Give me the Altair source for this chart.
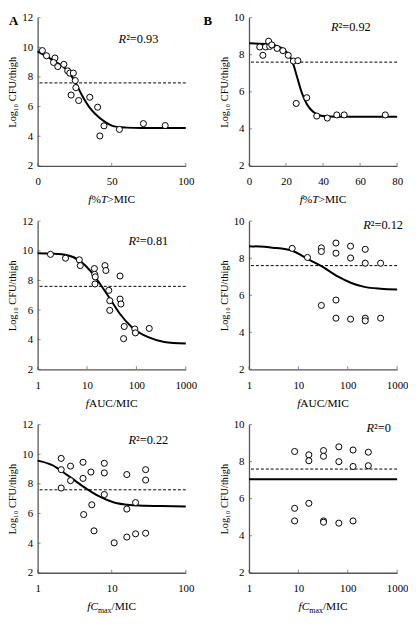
import altair as alt
import pandas as pd

FONT = "Liberation Serif"
W, H = 150, 150
DASH_Y = 7.6

# ---------------- data ----------------
# Panel A: f%T>MIC
A_x = [3.2, 6.0, 11.7, 10.7, 13.6, 17.7, 20.3, 21.7, 24.1, 25.4, 25.8, 22.6, 27.7, 35.2, 40.5, 42.0, 44.8, 55.2, 71.4, 86.1]
A_y = [9.78, 9.43, 9.28, 8.98, 8.70, 8.85, 8.41, 8.26, 8.26, 7.76, 7.28, 6.78, 6.41, 6.63, 5.96, 4.02, 4.70, 4.46, 4.85, 4.72]
A_cx = [0, 5, 10, 15, 20, 25, 30, 35, 40, 45, 50, 55, 60, 70, 100]
A_cy = [9.72, 9.45, 9.15, 8.85, 8.45, 7.72, 6.75, 5.95, 5.40, 5.00, 4.72, 4.62, 4.58, 4.55, 4.55]

# Panel B: f%T>MIC
B_x = [5.8, 7.5, 8.9, 10.6, 11.2, 12.3, 15.2, 18.3, 21.2, 24.0, 26.4, 25.5, 31.2, 36.6, 42.3, 47.4, 51.4, 73.6]
B_y = [8.42, 7.97, 8.42, 8.73, 8.45, 8.53, 8.34, 8.22, 7.97, 7.66, 7.68, 5.37, 5.68, 4.69, 4.58, 4.75, 4.75, 4.75]
B_cx = [0, 11.5, 15, 18.3, 21.7, 24, 26, 28.6, 31.2, 34.6, 38.9, 44, 50, 80]
B_cy = [8.62, 8.57, 8.48, 8.31, 7.97, 7.46, 6.78, 5.93, 5.34, 4.92, 4.71, 4.66, 4.65, 4.65]

# Panel C: fAUC/MIC
C_x = [1.82, 3.67, 6.98, 7.3, 14.1, 14.3, 14.7, 14.5, 23.1, 24.1, 46.6, 27.6, 28.9, 28.9, 46.6, 48.6, 56.7, 55.0, 92.9, 95.6, 182]
C_y = [9.76, 9.50, 9.39, 9.00, 8.80, 8.41, 8.24, 7.76, 9.00, 8.67, 8.30, 7.33, 6.63, 5.98, 6.74, 6.41, 4.89, 4.07, 4.72, 4.46, 4.76]
C_cx = [1, 2, 4, 7.5, 11.8, 18.4, 29, 45, 82, 174, 366, 1000]
C_cy = [9.83, 9.80, 9.70, 9.28, 8.63, 7.76, 6.78, 5.80, 4.83, 4.17, 3.85, 3.74]

# Panel D: fAUC/MIC
D_x = [7.5, 15.3, 29.2, 29.2, 57.7, 57.7, 114, 114, 226, 226, 463, 29.2, 57.7, 57.7, 114, 226, 226, 463]
D_y = [8.53, 8.04, 8.56, 8.36, 8.82, 8.27, 8.65, 8.01, 8.48, 7.73, 7.73, 5.45, 5.74, 4.76, 4.71, 4.76, 4.62, 4.76]
D_cx = [1, 3, 7.7, 15.3, 30, 64, 118, 217, 464, 1000]
D_cy = [8.65, 8.57, 8.39, 7.96, 7.56, 7.00, 6.66, 6.45, 6.35, 6.31]

# Panel E: fCmax/MIC
E_x = [2.08, 2.08, 2.08, 2.78, 2.78, 4.1, 4.1, 4.18, 5.24, 5.38, 5.77, 7.95, 7.95, 7.95, 10.8, 16, 16, 16, 21, 21, 28.7, 28.7, 28.7]
E_y = [9.72, 8.96, 7.72, 9.20, 8.22, 9.46, 8.37, 5.93, 8.80, 6.59, 4.83, 9.39, 8.74, 7.28, 4.02, 8.63, 6.30, 4.41, 6.74, 4.63, 8.96, 8.26, 4.67]
E_cx = [1, 1.55, 2.52, 4.1, 6.7, 10.8, 17.7, 28.7, 46.8, 100]
E_cy = [9.57, 9.28, 8.59, 7.83, 7.17, 6.74, 6.57, 6.52, 6.50, 6.48]

# Panel F: fCmax/MIC
F_x = [8.4, 8.4, 8.4, 16.3, 16.3, 16.3, 32.3, 32.3, 32.3, 32.3, 66, 66, 66, 128, 128, 128, 261, 261]
F_y = [8.55, 5.48, 4.80, 8.37, 8.05, 5.75, 8.60, 8.29, 4.80, 4.73, 8.80, 8.00, 4.68, 8.63, 7.74, 4.80, 8.51, 7.78]
F_cx = [1, 1000]
F_cy = [7.05, 7.05]

R2 = {"A": "0.93", "B": "0.92", "C": "0.81", "D": "0.12", "E": "0.22", "F": "0"}

X_LIN_A = [0, 50, 100]
X_LIN_B = [0, 20, 40, 60, 80]
X_LOG3 = [1, 10, 100, 1000]
X_LOG2 = [1, 10, 100]
Y12 = [2, 4, 6, 8, 10, 12]
Y10 = [2, 4, 6, 8, 10]

Y_TITLE = "Log\u2081\u2080 CFU/thigh"

# ---------------- text helpers (Times metrics) ----------------
REG = {' ': 250, '%': 833, '.': 250, '/': 278, '=': 564, '>': 564, 'A': 722, 'B': 667,
       'C': 667, 'I': 333, 'M': 889, 'U': 722, 'a': 444, 'm': 778, 'x': 500, '\u00b2': 300,
       'R': 667, 'T': 611, 'f': 333}
for d in "0123456789":
    REG[d] = 500
ITA = {'f': 278, 'T': 556, 'R': 611, 'C': 667}


def text_width(s, size, italic, bold=False):
    tab = ITA if italic else REG
    w = sum(tab.get(c, REG.get(c, 500)) for c in s) * size / 1000.0
    return w * (1.05 if bold else 1.0)


def text_run(pieces, x, y, anchor="left"):
    total = sum(text_width(t, s, it, b) for t, it, s, dy, b in pieces)
    if anchor == "center":
        x0 = x - total / 2
    elif anchor == "right":
        x0 = x - total
    else:
        x0 = x
    layers = []
    cx = x0
    for t, it, s, dy, b in pieces:
        layers.append(
            alt.Chart(alt.Data(values=[{"k": 1}]))
            .mark_text(text=t, font=FONT, fontSize=s,
                       fontStyle="italic" if it else "normal",
                       fontWeight="bold" if b else "normal",
                       align="left", baseline="alphabetic", color="black")
            .encode(x=alt.value(cx), y=alt.value(y + dy))
        )
        cx += text_width(t, s, it, b)
    return layers


XT = 11.5
TITLE_PCT = [("f", True, XT, 0, False), ("%", False, XT, 0, False),
             ("T", True, XT, 0, False), (">MIC", False, XT, 0, False)]
TITLE_AUC = [("f", True, XT, 0, False), ("AUC/MIC", False, XT, 0, False)]
TITLE_CMAX = [("f", True, XT, 0, False), ("C", True, XT, 0, False),
              ("max", False, 8, 3, False), ("/MIC", False, XT, 0, False)]

PANELS = [
    dict(key="A", x=A_x, y=A_y, cx=A_cx, cy=A_cy, log=False, xdom=[0, 100], xt=X_LIN_A,
         ymax=12, yt=Y12, title=TITLE_PCT, r2=(82, 26, "left"), letter=(-29, 7)),
    dict(key="B", x=B_x, y=B_y, cx=B_cx, cy=B_cy, log=False, xdom=[0, 80], xt=X_LIN_B,
         ymax=10, yt=Y10, title=TITLE_PCT, r2=(83, 13, "left"), letter=(-46, 7)),
    dict(key="C", x=C_x, y=C_y, cx=C_cx, cy=C_cy, log=True, xdom=[1, 1000], xt=X_LOG3,
         ymax=12, yt=Y12, title=TITLE_AUC, r2=(92, 24, "left"), letter=None),
    dict(key="D", x=D_x, y=D_y, cx=D_cx, cy=D_cy, log=True, xdom=[1, 1000], xt=X_LOG3,
         ymax=10, yt=Y10, title=TITLE_AUC, r2=(156, 8, "right"), letter=None),
    dict(key="E", x=E_x, y=E_y, cx=E_cx, cy=E_cy, log=True, xdom=[1, 100], xt=X_LOG2,
         ymax=12, yt=Y12, title=TITLE_CMAX, r2=(92, 20, "left"), letter=None),
    dict(key="F", x=F_x, y=F_y, cx=F_cx, cy=F_cy, log=True, xdom=[1, 1000], xt=X_LOG3,
         ymax=10, yt=Y10, title=TITLE_CMAX, r2=(119, 7, "left"), letter=None),
]


def make_panel(p):
    if p["log"]:
        xs = alt.Scale(type="log", domain=p["xdom"], nice=False)
    else:
        xs = alt.Scale(domain=p["xdom"], nice=False, zero=False)
    ys = alt.Scale(domain=[2, p["ymax"]], nice=False, zero=False)
    xa = alt.Axis(values=p["xt"], format="d", labelPadding=10, labelFlush=False,
                  labelOverlap=False)
    ya = alt.Axis(values=p["yt"], format="d", labelPadding=5, title=Y_TITLE,
                  titlePadding=4, labelFlush=False, labelOverlap=False)

    def X(f):
        return alt.X(f, type="quantitative", scale=xs, axis=xa, title=None)

    def Y(f):
        return alt.Y(f, type="quantitative", scale=ys, axis=ya, title=Y_TITLE)

    pts = pd.DataFrame({"x": p["x"], "y": p["y"]})
    cur = pd.DataFrame({"x": p["cx"], "y": p["cy"]})
    dash = pd.DataFrame({"y": [DASH_Y]})
    yt = pd.DataFrame({"y": p["yt"]})
    xt = pd.DataFrame({"x": p["xt"]})

    base_pts = alt.Chart(pts).mark_circle(size=38, fill="white", stroke="black",
                                          strokeWidth=1, opacity=1).encode(x=X("x"), y=Y("y"))
    dash_l = alt.Chart(dash).mark_rule(color="black", strokeDash=[3, 2],
                                       strokeWidth=1).encode(y=Y("y"))
    curve = alt.Chart(cur).mark_line(color="black", strokeWidth=2,
                                     interpolate="monotone").encode(x=X("x"), y=Y("y"))
    ytk = alt.Chart(yt).mark_tick(orient="horizontal", color="#555", size=3,
                                  thickness=1).encode(y=Y("y"), x=alt.value(1.5))
    xtk = alt.Chart(xt).mark_tick(orient="vertical", color="#555", size=3,
                                  thickness=1).encode(x=X("x"), y=alt.value(H - 1.5))

    layers = [dash_l, ytk, xtk, curve, base_pts]
    layers += text_run(p["title"], W / 2, H + 38, anchor="center")
    rx, ry, anc = p["r2"]
    layers += text_run([("R", True, 12.5, 0, False),
                        ("\u00b2=" + R2[p["key"]], False, 12.5, 0, False)], rx, ry, anchor=anc)
    if p["letter"] is not None:
        lx, ly = p["letter"]
        layers += text_run([(p["key"], False, 13, 0, True)], lx, ly)
    return alt.layer(*layers).properties(width=W, height=H)


chart = alt.concat(*[make_panel(p) for p in PANELS], columns=2,
                   spacing={"row": 56, "column": 64}, bounds="flush").properties(
    padding={"left": 0, "top": 0, "right": 0, "bottom": 2}
).configure_view(stroke=None).configure_axis(
    grid=False, ticks=False, tickSize=0, domainColor="#555", domainWidth=1.3,
    labelFont=FONT, labelFontSize=11, labelColor="black",
    titleFont=FONT, titleFontSize=10.5, titleFontWeight="normal", titleColor="black"
)

chart.save("out.html", embed_options={"renderer": "svg", "actions": False})
